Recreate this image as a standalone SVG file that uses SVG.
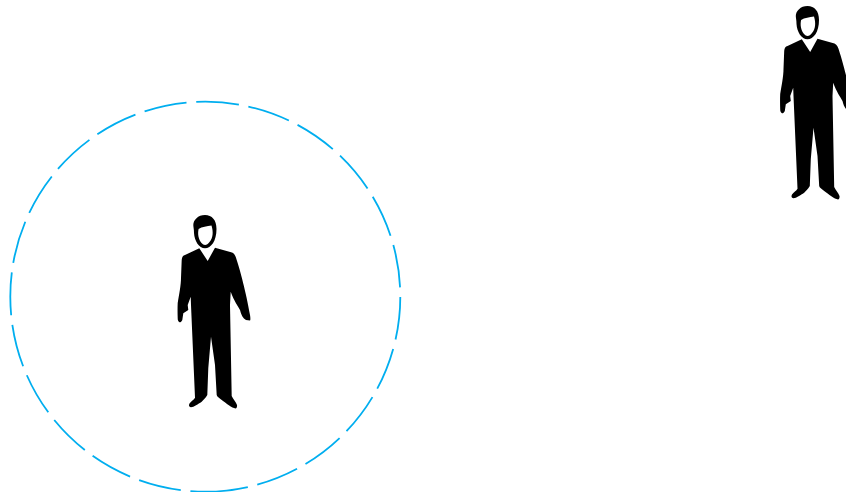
<svg xmlns="http://www.w3.org/2000/svg" xmlns:xlink="http://www.w3.org/1999/xlink" width="846" height="492" viewBox="0 0 846 492">
<style>
.ring{fill:none;stroke:#00aeef;stroke-width:1.8;stroke-dasharray:42.9 9.7}
.fig{fill:#000;fill-rule:evenodd}
</style>
<defs>
<g id="person">
<path class="fig" d="M205 215C198 215 193.300 220 193.300 225C193.300 227 194 229 194 233C194.500 241 199 248.300 205 248.300C211 248.300 216.500 241 216.500 229C216.500 220 212 215 205 215ZM198.600 229C202 226.500 207 226.500 211.500 225.500C213.500 232 213 238 209.500 242C207 245.500 204 245.800 201.500 243C198.500 239.500 197.500 234 198.600 229Z"/>
<path class="fig" d="M199.300 248.300L207.700 261L215 247.700L232 252.500C234.500 253.500 236 257 236.700 260C240 270 246 292 250 315C250.500 318 250.500 320 250 320.500L246 320C243 318.500 241 314.500 240 310C238 306 234 301 230.700 291.700L230 305L231.700 396C233 399 236 402 237 405C237.300 407 236.500 408.500 235.500 408.500C232 408 226 403 221.700 400C219 398 217 396.500 216.700 395L215 365L211 336.700L208.300 368L207.300 395C205.500 398 203 400.500 201.700 401.700C198 404 194 407 191 407.200C189 407 188.500 405.500 189.500 403.500C191 401.500 194 399.500 195 397.700L191 305L190.700 296.700L187.700 305L188.300 310L183.300 313.300L182.300 320C181.500 321.500 180.500 322.500 179.500 322.300C178 321.500 177.700 320 177.700 318.300C177.500 312 177.500 308 177.700 303C179 295 181 285 181 278L181.700 260C182 257 183 255.500 185 255Z"/>
</g>
</defs>
<g id="connectors"/>
<g id="boundary"><path class="ring" d="M205.300 491.700A195 195 0 0 0 205.300 101.700A195 195 0 0 0 205.300 491.700Z"/></g>
<g id="person-inside"><use href="#person"/></g>
<g id="person-outside"><use href="#person" transform="translate(602.500 -209)"/></g>
</svg>
